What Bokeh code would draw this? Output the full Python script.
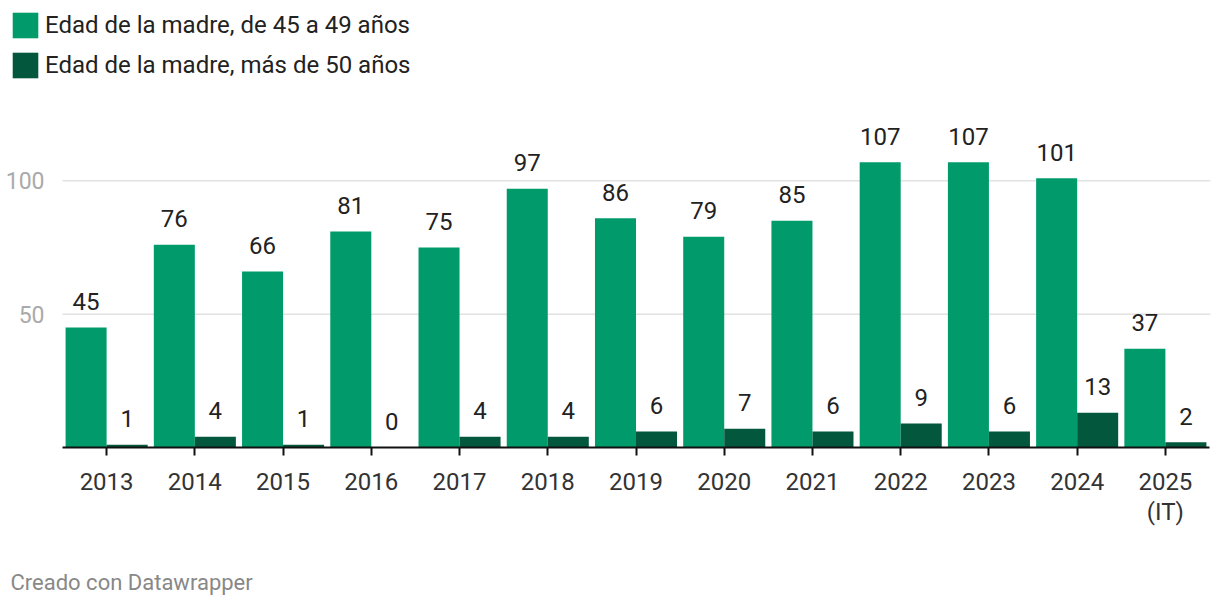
from bokeh.plotting import figure
from bokeh.models import (ColumnDataSource, FixedTicker, Legend, LegendItem, Label, Range1d)
from bokeh.core.properties import value
from bokeh.embed import file_html
from bokeh.resources import INLINE

years = ["2013", "2014", "2015", "2016", "2017", "2018", "2019", "2020", "2021", "2022", "2023", "2024", "2025\n(IT)"]
edad_45_49 = [45, 76, 66, 81, 75, 97, 86, 79, 85, 107, 107, 101, 37]
edad_50_mas = [1, 4, 1, 0, 4, 4, 6, 7, 6, 9, 6, 13, 2]
series_names = ["Edad de la madre, de 45 a 49 años", "Edad de la madre, más de 50 años"]
colors = ["#019b6b", "#03573d"]
y_ticks = [50, 100]
footer_text = "Creado con Datawrapper"

FONT = "Roboto"
W, H = 1212, 598

# layout geometry (pixels)
PLOT_L, PLOT_R, BASE_Y = 62, 1209, 447
n = len(years)
px_per_cat = (PLOT_R - PLOT_L) / n
px_per_unit = 320 / 120
x_start = -0.5 - PLOT_L / px_per_cat
x_end = x_start + W / px_per_cat
y_end = BASE_Y / px_per_unit
y_start = y_end - H / px_per_unit

idx = list(range(n))
bw = 0.465
off = bw / 2

src = ColumnDataSource(dict(
    xa=[i - off for i in idx], xb=[i + off for i in idx],
    a=edad_45_49, b=edad_50_mas,
    la=[str(v) for v in edad_45_49], lb=[str(v) for v in edad_50_mas],
))

p = figure(x_range=Range1d(x_start, x_end), y_range=Range1d(y_start, y_end),
           width=W, height=H, output_backend="svg", toolbar_location=None,
           min_border=0, min_border_left=0, min_border_right=0,
           min_border_top=0, min_border_bottom=0)
p.outline_line_color = None
p.background_fill_color = "white"
p.border_fill_color = "white"
p.xgrid.visible = False
p.ygrid.visible = False

# gridlines (from y tick list)
p.segment(x0=-0.5, x1=n - 0.5 + 0.01, y0=y_ticks, y1=y_ticks, line_color="#e2e2e2", line_width=1.5)

r1 = p.vbar(x="xa", top="a", width=bw, source=src, color=colors[0], line_color=None)
r2 = p.vbar(x="xb", top="b", width=bw, source=src, color=colors[1], line_color=None)

p.text(x="xa", y="a", text="la", source=src, y_offset=-26,
       text_align="center", text_baseline="alphabetic", text_font=value(FONT),
       text_font_size="24px", text_color="#222222")
p.text(x="xb", y="b", text="lb", source=src, y_offset=-26,
       text_align="center", text_baseline="alphabetic", text_font=value(FONT),
       text_font_size="24px", text_color="#222222")

# y axis
p.yaxis.fixed_location = -0.5
p.yaxis.ticker = FixedTicker(ticks=y_ticks)
p.yaxis.axis_line_color = None
p.yaxis.major_tick_line_color = None
p.yaxis.minor_tick_line_color = None
p.yaxis.major_label_text_color = "#aaaaaa"
p.yaxis.major_label_text_font = FONT
p.yaxis.major_label_text_font_size = "23px"
p.yaxis.major_label_standoff = 12

# x axis
p.xaxis.fixed_location = 0
p.xaxis.bounds = (-0.5, n - 0.5)
p.xaxis.ticker = FixedTicker(ticks=idx)
p.xaxis.major_label_overrides = {i: y for i, y in zip(idx, years)}
p.xaxis.axis_line_color = "#111111"
p.xaxis.axis_line_width = 2
p.xaxis.major_tick_line_color = "#111111"
p.xaxis.major_tick_line_width = 2
p.xaxis.major_tick_out = 8
p.xaxis.major_tick_in = 0
p.xaxis.minor_tick_line_color = None
p.xaxis.major_label_text_font = FONT
p.xaxis.major_label_text_font_size = "24px"
p.xaxis.major_label_text_color = "#333333"
p.xaxis.major_label_standoff = 12
p.xaxis.major_label_text_line_height = 1.1

# legend (top-left)
GL = 32
legend = Legend(items=[LegendItem(label=series_names[0], renderers=[r1]),
                       LegendItem(label=series_names[1], renderers=[r2])],
                location=(9, H - 9 - (2 * GL + 8)), orientation="vertical",
                glyph_width=GL, glyph_height=GL, label_height=GL, spacing=8,
                label_standoff=4, padding=0, margin=0,
                border_line_color=None, background_fill_alpha=0,
                label_text_font=FONT, label_text_font_size="24px", label_text_color="#222222")
p.add_layout(legend)

# footer
p.add_layout(Label(x=10, y=H - 582, x_units="screen", y_units="screen", text=footer_text,
                   text_font=FONT, text_font_size="22px", text_color="#888888",
                   text_baseline="middle", text_align="left"))

open("out.html", "w").write(file_html(p, INLINE))
